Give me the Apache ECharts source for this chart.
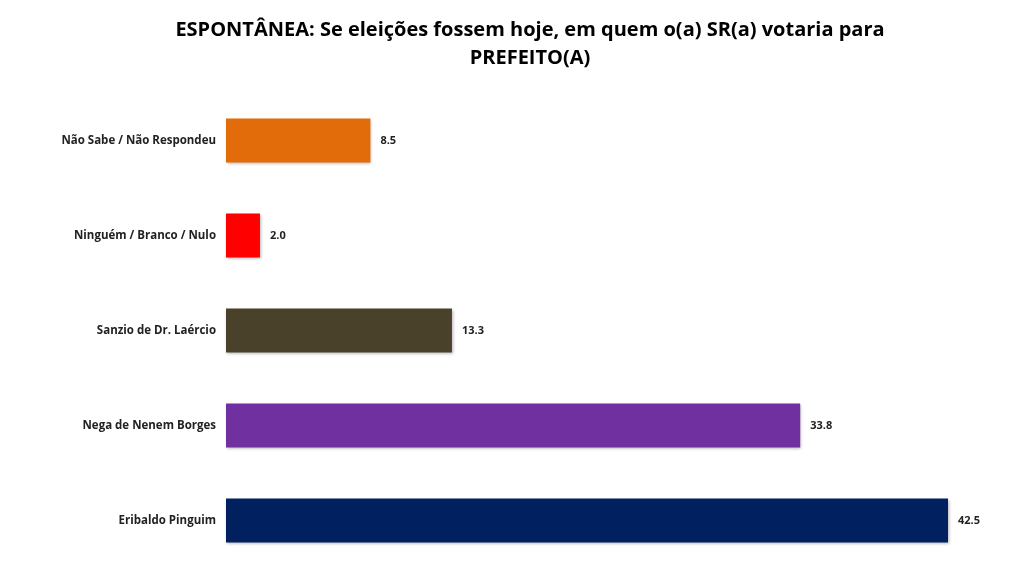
<!DOCTYPE html>
<html>
<head>
<meta charset="utf-8">
<script src="https://cdn.jsdelivr.net/npm/echarts@6/dist/echarts.min.js"></script>
<style>html,body{margin:0;padding:0;background:#fff;}#c{width:1024px;height:571px;}</style>
</head>
<body>
<div id="c"></div>
<script>
var categories = ['Não Sabe / Não Respondeu', 'Ninguém / Branco / Nulo', 'Sanzio de Dr. Laércio', 'Nega de Nenem Borges', 'Eribaldo Pinguim'];
var values = [8.5, 2.0, 13.3, 33.8, 42.5];
var colors = ['#E36C0A', '#FF0000', '#4A412A', '#7030A0', '#002060'];
var titleText = 'ESPONTÂNEA: Se eleições fossem hoje, em quem o(a) SR(a) votaria para\nPREFEITO(A)';

var chart = echarts.init(document.getElementById('c'));
chart.setOption({
  backgroundColor: '#fff',
  title: {
    text: titleText,
    left: 525,
    textAlign: 'center',
    top: 11,
    textStyle: { fontFamily: 'Open Sans', fontWeight: 'bold', fontSize: 20, color: '#000', lineHeight: 28 }
  },
  grid: { left: 226, right: 76, top: 93, bottom: 3, containLabel: false },
  xAxis: { type: 'value', min: 0, max: 42.5, show: false },
  yAxis: {
    type: 'category',
    data: categories,
    inverse: true,
    axisLine: { show: false },
    axisTick: { show: false },
    axisLabel: { fontFamily: 'Open Sans', fontWeight: 'bold', fontSize: 11.5, color: '#222', margin: 10 }
  },
  series: [{
    type: 'bar',
    barWidth: 44,
    data: values.map(function (v, i) { return { value: v, itemStyle: { color: colors[i] } }; }),
    itemStyle: { shadowColor: 'rgba(0,0,0,0.3)', shadowBlur: 3, shadowOffsetX: 1, shadowOffsetY: 1 },
    label: {
      show: true, position: 'right', distance: 10,
      formatter: function (p) { return p.value.toFixed(1); },
      fontFamily: 'Open Sans', fontWeight: 'bold', fontSize: 11, color: '#222'
    },
    animation: false
  }],
  animation: false
});
</script>
</body>
</html>
